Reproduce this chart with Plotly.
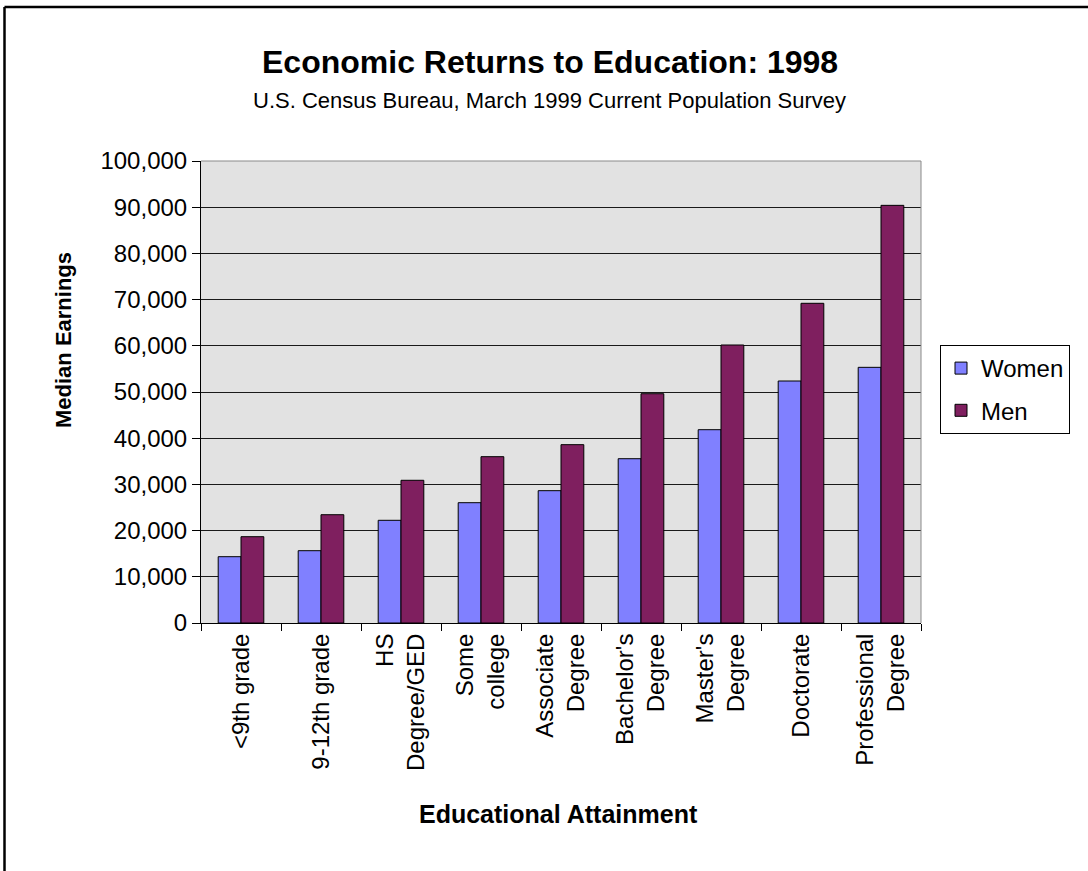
import plotly.graph_objects as go

categories = ["<9th grade", "9-12th grade", "HS<br>Degree/GED", "Some<br>college",
              "Associate<br>Degree", "Bachelor's<br>Degree", "Master's<br>Degree",
              "Doctorate", "Professional<br>Degree"]
women = [14350, 15650, 22230, 26040, 28640, 35560, 41840, 52380, 55340]
men = [18680, 23440, 30890, 36000, 38600, 49630, 60170, 69200, 90400]
y_ticks = [0, 10000, 20000, 30000, 40000, 50000, 60000, 70000, 80000, 90000, 100000]

FONT = "Liberation Sans, Arial, sans-serif"
W, H = 1088, 871
L, R, T, B = 201, 167, 161, 248
PW, PH = W - L - R, H - T - B

def px_x(px):
    return (px - L) / PW

def px_y(py):
    return (H - B - py) / PH

fig = go.Figure()
fig.add_trace(go.Bar(name="Women", x=categories, y=women,
                     marker=dict(color="#8080FF", line=dict(color="#000000", width=1)),
                     legendgroup="w"))
fig.add_trace(go.Bar(name="Men", x=categories, y=men,
                     marker=dict(color="#7F1F5F", line=dict(color="#000000", width=1)),
                     legendgroup="m"))

fig.update_layout(
    width=W, height=H,
    margin=dict(l=L, r=R, t=T, b=B),
    paper_bgcolor="white",
    plot_bgcolor="#E2E2E2",
    barmode="group",
    bargap=0.43,
    bargroupgap=0,
    font=dict(family=FONT, color="black", size=24),
    showlegend=True,
    legend=dict(x=px_x(940), y=px_y(345), xanchor="left", yanchor="top",
                bordercolor="black", borderwidth=1, bgcolor="white",
                font=dict(size=24, family=FONT), traceorder="grouped",
                tracegroupgap=8),
    xaxis=dict(
        type="category",
        tickangle=-90,
        ticks="outside", ticklen=7, tickcolor="black",
        tickson="boundaries",
        showline=True, linecolor="black", linewidth=1,
        showgrid=False,
        tickfont=dict(size=24, family=FONT),
    ),
    yaxis=dict(
        range=[0, 100000],
        tickvals=y_ticks,
        tickformat=",d",
        ticks="outside", ticklen=8, tickcolor="black",
        showline=True, linecolor="black", linewidth=1,
        showgrid=True, gridcolor="#1a1a1a", gridwidth=1,
        zeroline=False,
        tickfont=dict(size=24, family=FONT),
    ),
)

annotations = [
    dict(text="<b>Economic Returns to Education: 1998</b>", x=px_x(550), y=px_y(62),
         font=dict(size=32, family=FONT)),
    dict(text="U.S. Census Bureau, March 1999 Current Population Survey", x=px_x(549), y=px_y(101),
         font=dict(size=22, family=FONT)),
    dict(text="<b>Educational Attainment</b>", x=px_x(558), y=px_y(814),
         font=dict(size=25, family=FONT)),
    dict(text="<b>Median Earnings</b>", x=px_x(63), y=px_y(340), textangle=-90,
         font=dict(size=22, family=FONT)),
]
for a in annotations:
    a.update(xref="paper", yref="paper", showarrow=False, xanchor="center", yanchor="middle")
fig.update_layout(annotations=annotations)

shapes = [
    dict(type="line", xref="paper", yref="paper", x0=px_x(4.5), x1=px_x(1200),
         y0=px_y(7), y1=px_y(7), line=dict(color="black", width=2.5)),
    dict(type="line", xref="paper", yref="paper", x0=px_x(4.5), x1=px_x(4.5),
         y0=px_y(7), y1=px_y(1000), line=dict(color="black", width=2.5)),
    dict(type="line", xref="paper", yref="paper", x0=0, x1=1, y0=1, y1=1,
         line=dict(color="#8a8a8a", width=1)),
    dict(type="line", xref="paper", yref="paper", x0=1, x1=1, y0=0, y1=1,
         line=dict(color="#8a8a8a", width=1)),
]
fig.update_layout(shapes=shapes)

fig.write_html("out.html")
